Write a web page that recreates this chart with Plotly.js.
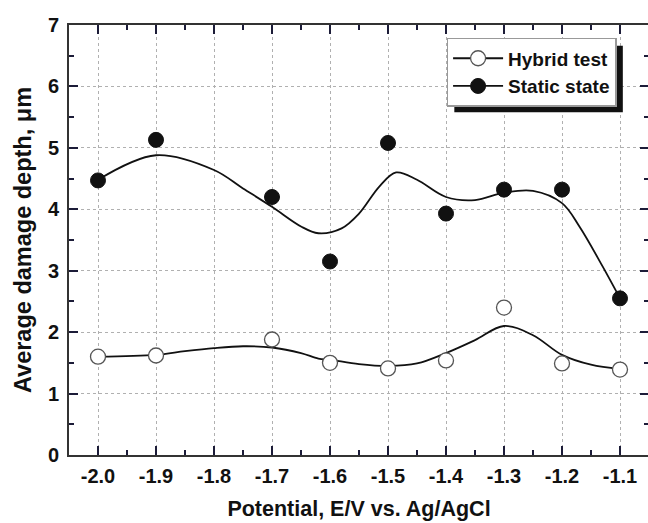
<!DOCTYPE html>
<html>
<head>
<meta charset="utf-8">
<script src="https://cdn.plot.ly/plotly-3.0.1.min.js"></script>
<style>
html,body{margin:0;padding:0;overflow:hidden;background:#fff;}
#chart{width:656px;height:523px;}
</style>
</head>
<body>
<div id="chart"></div>
<script>
// Measured points
const potential = [-2.0, -1.9, -1.7, -1.6, -1.5, -1.4, -1.3, -1.2, -1.1];
const hybridDepth = [1.60, 1.62, 1.88, 1.50, 1.41, 1.54, 2.40, 1.49, 1.39];
const staticDepth = [4.47, 5.13, 4.20, 3.15, 5.08, 3.93, 4.32, 4.32, 2.55];

// Smoothed fit curves
const hybridCurveX = [-2.0, -1.9, -1.85, -1.8, -1.75, -1.7, -1.65, -1.62, -1.6, -1.55, -1.5, -1.45, -1.4, -1.35, -1.3, -1.25, -1.2, -1.15, -1.1];
const hybridCurveY = [1.60, 1.63, 1.69, 1.74, 1.77, 1.75, 1.66, 1.57, 1.55, 1.48, 1.45, 1.49, 1.66, 1.87, 2.10, 1.95, 1.63, 1.47, 1.40];
const staticCurveX = [-2.0, -1.9, -1.8, -1.75, -1.7, -1.65, -1.62, -1.58, -1.55, -1.515, -1.486, -1.45, -1.4, -1.35, -1.3, -1.25, -1.2, -1.17, -1.13, -1.1];
const staticCurveY = [4.48, 4.88, 4.64, 4.34, 4.04, 3.72, 3.61, 3.69, 3.93, 4.37, 4.60, 4.48, 4.20, 4.15, 4.27, 4.30, 4.10, 3.72, 3.07, 2.55];

const xTickVals = [-2.0, -1.9, -1.8, -1.7, -1.6, -1.5, -1.4, -1.3, -1.2, -1.1];
const xTickText = ['-2.0', '-1.9', '-1.8', '-1.7', '-1.6', '-1.5', '-1.4', '-1.3', '-1.2', '-1.1'];

const FONT = 'Liberation Sans, Arial, sans-serif';
const openMarker = {symbol: 'circle', size: 15, color: '#ffffff', line: {color: '#555555', width: 1.3}};
const fillMarker = {symbol: 'circle', size: 15, color: '#111111', line: {color: '#111111', width: 1}};
const curveLine = {color: '#111111', width: 1.8, shape: 'spline', smoothing: 1};

const traces = [
  {x: hybridCurveX, y: hybridCurveY, mode: 'lines', line: curveLine, showlegend: false, hoverinfo: 'skip'},
  {x: staticCurveX, y: staticCurveY, mode: 'lines', line: curveLine, showlegend: false, hoverinfo: 'skip'},
  {x: potential, y: hybridDepth, mode: 'markers', marker: openMarker, showlegend: false, name: 'Hybrid test'},
  {x: potential, y: staticDepth, mode: 'markers', marker: fillMarker, showlegend: false, name: 'Static state'},
  {x: [null], y: [null], mode: 'lines+markers', name: 'Hybrid test', marker: openMarker, line: {color: '#111111', width: 1.8}},
  {x: [null], y: [null], mode: 'lines+markers', name: 'Static state', marker: fillMarker, line: {color: '#111111', width: 1.8}}
];

const TICKC = '#1c1c38';
const layout = {
  width: 656, height: 523,
  margin: {l: 69, r: 7, t: 25, b: 68},
  paper_bgcolor: '#ffffff', plot_bgcolor: '#ffffff',
  font: {family: FONT, color: '#111111'},
  xaxis: {
    range: [-2.05, -1.05], tickmode: 'array', tickvals: xTickVals, ticktext: xTickText,
    showline: true, linecolor: '#333333', linewidth: 1.8, mirror: 'allticks',
    ticks: 'inside', ticklen: 9, tickwidth: 2, tickcolor: TICKC,
    showgrid: true, gridcolor: '#b0b0b0', gridwidth: 1, griddash: 'dot', zeroline: false,
    tickfont: {family: FONT, size: 20, color: '#111111', weight: 'bold'},
    ticklabelstandoff: 2,
    minor: {dtick: 0.05, tick0: -2.05, ticks: 'inside', ticklen: 5, tickwidth: 2, tickcolor: TICKC, showgrid: false},
    title: {text: 'Potential, E/V vs. Ag/AgCl', font: {family: FONT, size: 21.5, weight: 'bold', color: '#111111'}, standoff: 15}
  },
  yaxis: {
    range: [0, 7], tickmode: 'linear', dtick: 1, tick0: 0,
    showline: true, linecolor: '#333333', linewidth: 1.8, mirror: 'allticks',
    ticks: 'inside', ticklen: 9, tickwidth: 2, tickcolor: TICKC,
    showgrid: true, gridcolor: '#b0b0b0', gridwidth: 1, griddash: 'dot', zeroline: false,
    tickfont: {family: FONT, size: 20, color: '#111111', weight: 'bold'},
    ticklabelstandoff: 4,
    minor: {dtick: 0.5, tick0: 0, ticks: 'inside', ticklen: 5, tickwidth: 2, tickcolor: TICKC, showgrid: false},
    title: {text: 'Average damage depth, μm', font: {family: FONT, size: 23.5, weight: 'bold', color: '#111111'}, standoff: 10}
  },
  legend: {
    x: 0.651, y: 0.970, xanchor: 'left', yanchor: 'top',
    bgcolor: '#ffffff', bordercolor: '#999999', borderwidth: 1.5,
    font: {family: FONT, size: 19, weight: 'bold', color: '#111111'},
    itemwidth: 50, tracegroupgap: 0
  },
  showlegend: true
};

Plotly.newPlot('chart', traces, layout, {displayModeBar: false}).then(function(gd) {
  // legend drop shadow, placed from the rendered legend box
  const fl = gd._fullLayout;
  const bg = gd.querySelector('.legend .bg');
  if (!bg) return;
  const lb = bg.getBoundingClientRect();
  const gb = gd.getBoundingClientRect();
  const off = 7;
  const px = function(v) { return (v - gb.left - fl._size.l) / fl._size.w; };
  const py = function(v) { return 1 - (v - gb.top - fl._size.t) / fl._size.h; };
  return Plotly.relayout(gd, {shapes: [{
    type: 'rect', xref: 'paper', yref: 'paper', layer: 'above',
    x0: px(lb.left + off), x1: px(lb.right + off),
    y0: py(lb.bottom + off - 1), y1: py(lb.top + off),
    fillcolor: '#111111', line: {width: 0}
  }]});
});
</script>
</body>
</html>
